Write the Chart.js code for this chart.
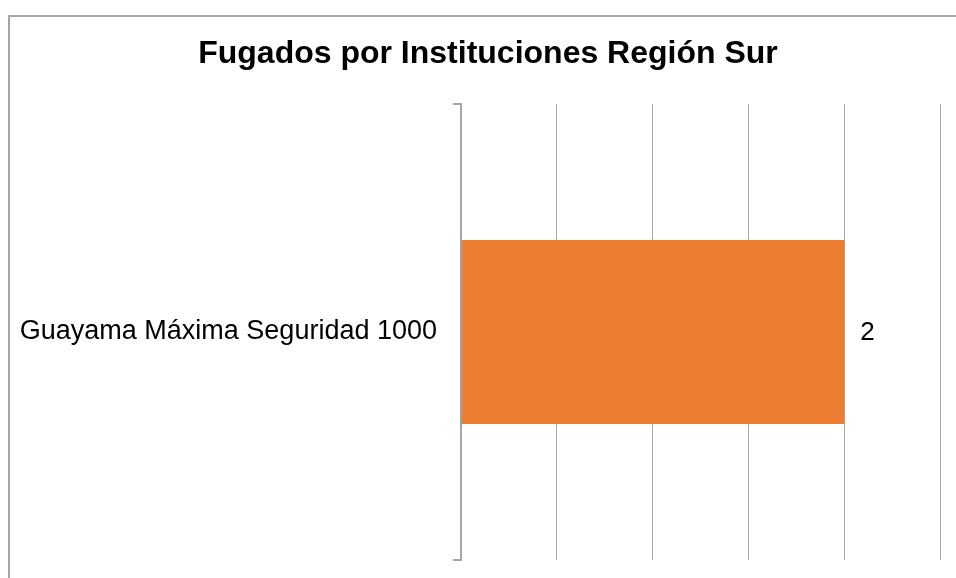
<!DOCTYPE html>
<html>
<head>
<meta charset="utf-8">
<script src="https://cdn.jsdelivr.net/npm/chart.js@4/dist/chart.umd.min.js"></script>
<style>
    html, body { margin: 0; padding: 0; background: #fff; }
    #wrap { position: relative; width: 956px; height: 578px; }
    #frame {
        position: absolute; left: 8px; top: 15px; right: 0; bottom: 0;
        border-top: 2px solid #a6a6a6; border-left: 2px solid #a6a6a6;
        pointer-events: none;
    }
    canvas { position: absolute; left: 0; top: 0; }
</style>
</head>
<body>
<div id="wrap">
    <canvas id="myChart" width="956" height="578"></canvas>
    <div id="frame"></div>
</div>
<script>
const chartTitle = 'Fugados por Instituciones Región Sur';
const categories = ['Guayama Máxima Seguridad 1000'];
const fugados = [2];
const xMax = 2.5;
const xStep = 0.5;

const FONT = "'Liberation Sans', Arial, sans-serif";
const GRID = '#a6a6a6';

// titulo centrado sobre el area del grafico (un poco a la derecha del centro del lienzo)
const titleText = {
    id: 'titleText',
    afterDraw(chart) {
        const ctx = chart.ctx;
        ctx.save();
        ctx.font = 'bold 32px ' + FONT;
        ctx.fillStyle = '#000';
        ctx.textAlign = 'center';
        ctx.textBaseline = 'alphabetic';
        ctx.fillText(chartTitle, 488, 63);
        ctx.restore();
    }
};

// etiqueta con el valor a la derecha de la barra
const valueLabels = {
    id: 'valueLabels',
    afterDatasetsDraw(chart) {
        const ctx = chart.ctx;
        const meta = chart.getDatasetMeta(0);
        ctx.save();
        ctx.font = '26px ' + FONT;
        ctx.fillStyle = '#000';
        ctx.textAlign = 'left';
        ctx.textBaseline = 'middle';
        meta.data.forEach((bar, i) => {
            ctx.fillText(String(fugados[i]), bar.x + 16, bar.y + 1);
        });
        ctx.restore();
    }
};

new Chart(document.getElementById('myChart').getContext('2d'), {
    type: 'bar',
    data: {
        labels: categories,
        datasets: [{
            data: fugados,
            backgroundColor: '#ed7d31',
            borderWidth: 0,
            barPercentage: 0.403,
            categoryPercentage: 1
        }]
    },
    plugins: [valueLabels, titleText],
    options: {
        indexAxis: 'y',
        responsive: false,
        animation: false,
        layout: { padding: { left: 0, right: 16, top: 104, bottom: 18 } },
        plugins: {
            legend: { display: false },
            tooltip: { enabled: false },
            title: { display: false }
        },
        scales: {
            x: {
                min: 0,
                max: xMax,
                ticks: { display: false, stepSize: xStep },
                grid: { color: GRID, lineWidth: 1, drawTicks: false },
                border: { display: false },
                afterFit(scale) { scale.height = 0; }
            },
            y: {
                offset: true,
                grid: {
                    offset: true,
                    drawOnChartArea: false,
                    drawTicks: true,
                    tickLength: 8,
                    color: GRID,
                    lineWidth: 2
                },
                border: { display: true, color: GRID, width: 2 },
                ticks: {
                    color: '#000',
                    padding: 16,
                    font: { family: FONT, size: 27 }
                },
                afterFit(scale) {
                    scale.width = 461;
                    scale.paddingTop = 0;
                    scale.paddingBottom = 0;
                }
            }
        }
    }
});
</script>
</body>
</html>
